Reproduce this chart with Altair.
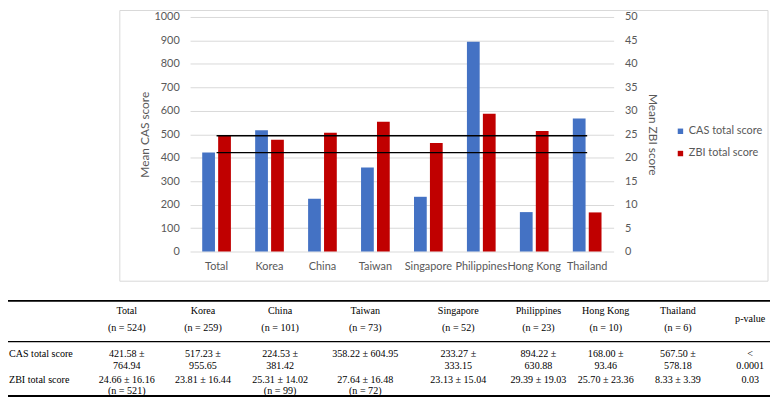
import altair as alt
import pandas as pd

# ---------------- data ----------------
categories = ["Total", "Korea", "China", "Taiwan", "Singapore", "Philippines", "Hong Kong", "Thailand"]
cas_means = [421.58, 517.23, 224.53, 358.22, 233.27, 894.22, 168.00, 567.50]
zbi_means = [24.66, 23.81, 25.31, 27.64, 23.13, 29.39, 25.70, 8.33]
series_names = ["CAS total score", "ZBI total score"]
series_colors = ["#4472c4", "#c00000"]
cas_ticks = list(range(0, 1001, 100))
zbi_ticks = list(range(0, 51, 5))

n_labels = ["(n = 524)", "(n = 259)", "(n = 101)", "(n = 73)", "(n = 52)", "(n = 23)", "(n = 10)", "(n = 6)"]
cas_cells = ["421.58 ±\n764.94", "517.23 ±\n955.65", "224.53 ±\n381.42", "358.22 ± 604.95",
             "233.27 ±\n333.15", "894.22 ±\n630.88", "168.00 ±\n93.46", "567.50 ±\n578.18"]
zbi_cells = ["24.66 ± 16.16\n(n = 521)", "23.81 ± 16.44", "25.31 ± 14.02\n(n = 99)", "27.64 ± 16.48\n(n = 72)",
             "23.13 ± 15.04", "29.39 ± 19.03", "25.70 ± 23.36", "8.33 ± 3.39"]
p_header = "p-value"
p_values = ["<\n0.0001", "0.03"]
row_labels = ["CAS total score", "ZBI total score"]

# ---------------- layout ----------------
W, H = 428, 237
PAD_L, PAD_T = 184, 7
TOTAL_W, TOTAL_H = 770, 392
ORIGIN_X = 8 + PAD_L
ORIGIN_Y = 8 + PAD_T

# table grid stops (page pixels): edge, row label, frame left, 8 columns, p-value, frame right, edge
tbl_x_page = [8, 9, 121, 128, 205, 283, 369, 463, 544, 612, 685, 758, 776, 778]
# frame top, frame bottom, top rule, header1, p-value, header2, header rule, CAS row, ZBI row, bottom rule
tbl_y_page = [8.5, 282, 302, 312, 320.5, 329, 343, 356, 382, 398]

tx = alt.Scale(type="linear", domain=list(range(len(tbl_x_page))),
               range=[p - ORIGIN_X for p in tbl_x_page], zero=False, nice=False)
ty = alt.Scale(type="linear", domain=list(range(len(tbl_y_page))),
               range=[p - ORIGIN_Y for p in tbl_y_page], zero=False, nice=False)

band = alt.Scale(domain=categories, paddingInner=0.458, paddingOuter=0.229)
offs = alt.Scale(domain=series_names, paddingInner=0.2, paddingOuter=0)
cas_scale = alt.Scale(domain=[0, 1000], nice=False)
zbi_scale = alt.Scale(domain=[0, 50], nice=False)
color_scale = alt.Scale(domain=series_names, range=series_colors)

FONT = "Lato"
GRAY = "#595959"
TFONT = "Liberation Serif"
TSIZE = 10.2

# ---------------- frames and tables ----------------
IX_EDGE_L, IX_LABEL, IX_BOX_L = 0, 1, 2
IX_COL0 = 3
IX_P = 11
IX_BOX_R, IX_EDGE_R = 12, 13
IY_BOX_T, IY_BOX_B, IY_TOP, IY_H1, IY_P, IY_H2, IY_HR, IY_CAS, IY_ZBI, IY_BOT = range(10)

frame_df = pd.DataFrame([{"x0": IX_BOX_L, "x1": IX_BOX_R, "y0": IY_BOX_T, "y1": IY_BOX_B}])
frame = alt.Chart(frame_df).mark_rect(filled=False, stroke="#d9d9d9", strokeWidth=1).encode(
    x=alt.X("x0:Q", scale=tx, axis=None), x2="x1:Q",
    y=alt.Y("y0:Q", scale=ty, axis=None), y2="y1:Q")

thick_df = pd.DataFrame([{"x0": IX_EDGE_L, "x1": IX_EDGE_R, "yi": IY_TOP},
                         {"x0": IX_EDGE_L, "x1": IX_EDGE_R, "yi": IY_BOT}])
thin_df = pd.DataFrame([{"x0": IX_EDGE_L, "x1": IX_EDGE_R, "yi": IY_HR}])
rules_thick = alt.Chart(thick_df).mark_rule(color="black", strokeWidth=1.8).encode(
    x=alt.X("x0:Q", scale=tx, axis=None), x2="x1:Q",
    y=alt.Y("yi:Q", scale=ty, axis=None))
rules_thin = alt.Chart(thin_df).mark_rule(color="black", strokeWidth=1.3).encode(
    x=alt.X("x0:Q", scale=tx, axis=None), x2="x1:Q",
    y=alt.Y("yi:Q", scale=ty, axis=None))

cells = []
for i, c in enumerate(categories):
    xi = IX_COL0 + i
    cells.append({"xi": xi, "yi": IY_H1, "t": c})
    cells.append({"xi": xi, "yi": IY_H2, "t": n_labels[i]})
    cells.append({"xi": xi, "yi": IY_CAS, "t": cas_cells[i]})
    cells.append({"xi": xi, "yi": IY_ZBI, "t": zbi_cells[i]})
cells.append({"xi": IX_P, "yi": IY_P, "t": p_header})
cells.append({"xi": IX_P, "yi": IY_CAS, "t": p_values[0]})
cells.append({"xi": IX_P, "yi": IY_ZBI, "t": p_values[1]})
cells_df = pd.DataFrame(cells)
labels_df = pd.DataFrame([{"xi": IX_LABEL, "yi": IY_CAS, "t": row_labels[0]},
                          {"xi": IX_LABEL, "yi": IY_ZBI, "t": row_labels[1]}])

cell_text = alt.Chart(cells_df).mark_text(
    font=TFONT, fontSize=TSIZE, lineBreak="\n", lineHeight=11.5,
    align="center", baseline="middle", color="black").encode(
    x=alt.X("xi:Q", scale=tx, axis=None), y=alt.Y("yi:Q", scale=ty, axis=None), text="t:N")
label_text = alt.Chart(labels_df).mark_text(
    font=TFONT, fontSize=TSIZE, align="left", baseline="middle", color="black").encode(
    x=alt.X("xi:Q", scale=tx, axis=None), y=alt.Y("yi:Q", scale=ty, axis=None), text="t:N")

# ---------------- bar chart ----------------
bars_df = pd.DataFrame(
    [{"category": c, "series": series_names[0], "value": v} for c, v in zip(categories, cas_means)] +
    [{"category": c, "series": series_names[1], "value": v} for c, v in zip(categories, zbi_means)])

legend = alt.Legend(title=None, orient="none", legendX=490, legendY=110, symbolType="square",
                    symbolSize=30, symbolStrokeWidth=0, labelFont=FONT, labelFontSize=11,
                    labelColor=GRAY, rowPadding=10.5, padding=0, labelOffset=3)

axis_common = dict(labelFont=FONT, labelFontSize=11, labelColor=GRAY, titleFont=FONT,
                   titleFontSize=12, titleFontWeight="normal", titleColor=GRAY,
                   domain=False, ticks=False, tickSize=0)

bars_cas = alt.Chart(bars_df).transform_filter(alt.datum.series == series_names[0]).mark_bar().encode(
    x=alt.X("category:N", scale=band, sort=categories,
            axis=alt.Axis(title=None, orient="bottom", labelAngle=0, labelPadding=9,
                          labelOverlap=False, grid=False, **axis_common)),
    xOffset=alt.XOffset("series:N", scale=offs),
    y=alt.Y("value:Q", scale=cas_scale,
            axis=alt.Axis(title="Mean CAS score", orient="left", values=cas_ticks, format="d",
                          grid=True, gridColor="#d9d9d9", gridWidth=1, labelPadding=11,
                          titlePadding=3, **axis_common)),
    color=alt.Color("series:N", scale=color_scale, legend=legend))

bars_zbi = alt.Chart(bars_df).transform_filter(alt.datum.series == series_names[1]).mark_bar().encode(
    x=alt.X("category:N", scale=band, sort=categories, axis=None),
    xOffset=alt.XOffset("series:N", scale=offs),
    y=alt.Y("value:Q", scale=zbi_scale,
            axis=alt.Axis(title="Mean ZBI score", orient="right", values=zbi_ticks, format="d",
                          grid=False, labelPadding=11, titlePadding=8, **axis_common)),
    color=alt.Color("series:N", scale=color_scale, legend=legend))

mean_cas_df = pd.DataFrame([{"start": categories[0], "end": categories[-1], "value": cas_means[0]}])
mean_zbi_df = pd.DataFrame([{"start": categories[0], "end": categories[-1], "value": zbi_means[0]}])
mean_cas = alt.Chart(mean_cas_df).mark_rule(color="black", strokeWidth=1.5).encode(
    x=alt.X("start:N", scale=band, axis=None), x2="end:N",
    y=alt.Y("value:Q", scale=cas_scale, axis=None))
mean_zbi = alt.Chart(mean_zbi_df).mark_rule(color="black", strokeWidth=1.5).encode(
    x=alt.X("start:N", scale=band, axis=None), x2="end:N",
    y=alt.Y("value:Q", scale=zbi_scale, axis=None))

chart = alt.layer(
    frame, rules_thick, rules_thin, bars_cas, bars_zbi, mean_cas, mean_zbi, cell_text, label_text
).resolve_scale(
    x="independent", y="independent"
).properties(
    width=W, height=H,
    padding={"left": PAD_L, "top": PAD_T, "right": TOTAL_W - PAD_L - W, "bottom": TOTAL_H - PAD_T - H},
    autosize=alt.AutoSizeParams(type="none"),
).configure_view(stroke=None)

chart.save("out.html", embed_options={"renderer": "svg", "actions": False})
